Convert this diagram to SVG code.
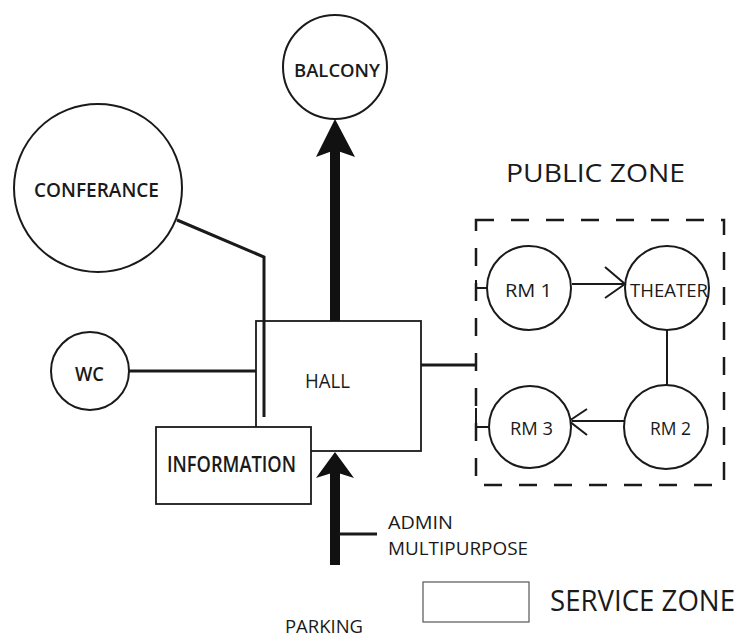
<svg xmlns="http://www.w3.org/2000/svg" width="748" height="639" viewBox="0 0 748 639">
  <style>
    .node { fill: #fff; stroke: #1a1a1a; stroke-width: 2; }
    .box { fill: #fff; stroke: #1a1a1a; stroke-width: 1.8; }
    .lbl { font-family: "Open Sans", "Noto Sans", "Liberation Sans", sans-serif; fill: #1a1a1a; text-anchor: middle; }
    .start { text-anchor: start; }
    .b { font-weight: 600; }
    .link { fill: none; stroke: #1a1a1a; stroke-width: 3; }
    .thin { fill: none; stroke: #1a1a1a; stroke-width: 2; }
    .heavy { fill: none; stroke: #111; stroke-width: 10; }
    .head { fill: #111; stroke: none; }
  </style>

  <!-- connectors -->
  <g id="connectors">
    <!-- conference to hall -->
    <polyline class="link" points="177,220 264,257 264,417"/>
    <!-- wc to hall -->
    <line class="link" x1="129" y1="371" x2="256" y2="371"/>
    <!-- hall to public zone -->
    <line class="link" x1="421" y1="365" x2="477" y2="365"/>
    <!-- hall up to balcony -->
    <line class="heavy" x1="335" y1="321" x2="335" y2="150"/>
    <polygon class="head" points="335,119 355,157 335,150 316,157"/>
    <!-- parking up to hall -->
    <line class="heavy" x1="335" y1="565" x2="335" y2="470"/>
    <polygon class="head" points="335,452 354,478 335,472 316,478"/>
    <!-- admin branch -->
    <line class="link" x1="339" y1="534" x2="377" y2="534"/>
    <!-- public zone inner links -->
    <line class="thin" x1="476" y1="288" x2="487" y2="288"/>
    <line class="thin" x1="476" y1="280" x2="476" y2="296"/>
    <line class="thin" x1="476" y1="408" x2="476" y2="427"/>
    <line class="thin" x1="476" y1="427" x2="488" y2="427"/>
    <line class="thin" x1="572" y1="284" x2="624" y2="284"/>
    <polyline class="thin" points="605,267 625,284 605,298"/>
    <line class="thin" x1="667" y1="330" x2="667" y2="387"/>
    <line class="thin" x1="624" y1="421" x2="572" y2="421"/>
    <polyline class="thin" points="587,409 569,421 587,435"/>
  </g>

  <!-- public zone boundary -->
  <g id="public-zone">
    <rect x="476" y="220" width="248" height="265" fill="none" stroke="#1a1a1a" stroke-width="2.5" stroke-dasharray="18 17"/>
    <text class="lbl start" x="506" y="182" font-size="25" textLength="179" lengthAdjust="spacingAndGlyphs">PUBLIC ZONE</text>
  </g>

  <g id="balcony">
    <circle class="node" cx="335" cy="67" r="52"/>
    <text class="lbl b start" x="294" y="77" font-size="18" textLength="86" lengthAdjust="spacingAndGlyphs">BALCONY</text>
  </g>

  <g id="conferance">
    <circle class="node" cx="98" cy="188" r="84"/>
    <text class="lbl b start" x="34" y="197" font-size="20" textLength="125" lengthAdjust="spacingAndGlyphs">CONFERANCE</text>
  </g>

  <g id="wc">
    <circle class="node" cx="90" cy="371" r="39"/>
    <text class="lbl b start" x="75" y="381" font-size="20" textLength="29" lengthAdjust="spacingAndGlyphs">WC</text>
  </g>

  <g id="hall">
    <rect class="box" x="256" y="321" width="165" height="130"/>
    <!-- conference link continues over the hall edge -->
    <line class="link" x1="264" y1="321" x2="264" y2="417"/>
    <text class="lbl start" x="305" y="388" font-size="20" textLength="45" lengthAdjust="spacingAndGlyphs">HALL</text>
  </g>

  <g id="information">
    <rect class="box" x="156" y="427" width="155" height="77"/>
    <text class="lbl b start" x="167" y="472" font-size="21" textLength="129" lengthAdjust="spacingAndGlyphs">INFORMATION</text>
  </g>

  <g id="rm1">
    <circle class="node" cx="529" cy="288" r="42"/>
    <text class="lbl start" x="505" y="297" font-size="18" textLength="47" lengthAdjust="spacingAndGlyphs">RM 1</text>
  </g>

  <g id="theater">
    <circle class="node" cx="667" cy="288" r="42"/>
    <text class="lbl start" x="630" y="297" font-size="18" textLength="78" lengthAdjust="spacingAndGlyphs">THEATER</text>
  </g>

  <g id="rm3">
    <circle class="node" cx="530" cy="427" r="41"/>
    <text class="lbl start" x="510" y="435" font-size="18" textLength="43" lengthAdjust="spacingAndGlyphs">RM 3</text>
  </g>

  <g id="rm2">
    <circle class="node" cx="666" cy="427" r="42"/>
    <text class="lbl start" x="650" y="435" font-size="18" textLength="41" lengthAdjust="spacingAndGlyphs">RM 2</text>
  </g>

  <g id="admin">
    <text class="lbl start" x="388" y="529" font-size="19" textLength="65" lengthAdjust="spacingAndGlyphs">ADMIN</text>
    <text class="lbl start" x="388" y="555" font-size="19" textLength="140" lengthAdjust="spacingAndGlyphs">MULTIPURPOSE</text>
  </g>

  <g id="parking">
    <text class="lbl start" x="285" y="633" font-size="18" textLength="78" lengthAdjust="spacingAndGlyphs">PARKING</text>
  </g>

  <g id="legend">
    <rect x="423" y="582" width="106" height="40" fill="#fff" stroke="#555" stroke-width="1.2"/>
    <text class="lbl start" x="550" y="611" font-size="29" textLength="185" lengthAdjust="spacingAndGlyphs">SERVICE ZONE</text>
  </g>
</svg>
